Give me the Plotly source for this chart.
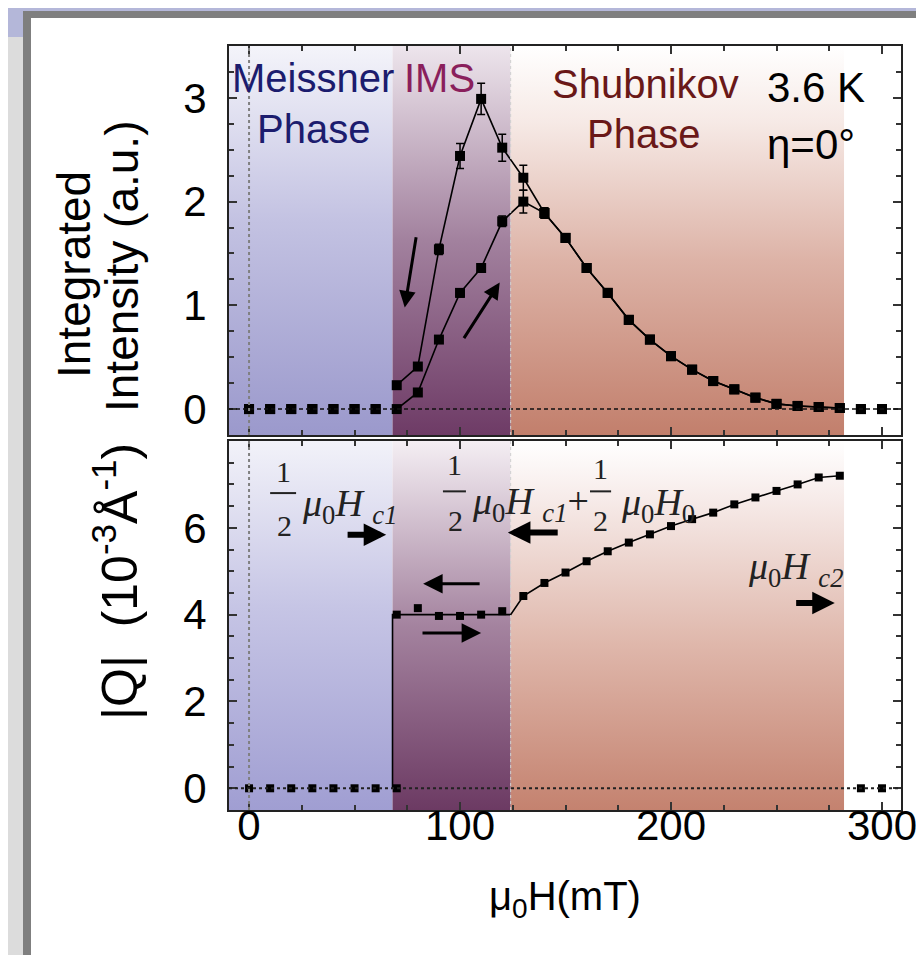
import numpy as np
import plotly.graph_objects as go

# ---------------- data ----------------
field = np.arange(0, 301, 10)  # mT
intensity_up = [0, 0, 0, 0, 0, 0, 0, 0, 0.16, 0.67, 1.12, 1.36, 1.81, 2.00, 1.89, 1.65,
                1.36, 1.12, 0.86, 0.67, 0.51, 0.38, 0.27, 0.19, 0.11, 0.05, 0.03, 0.02,
                0.01, 0.0, 0.0]
intensity_down = [0, 0, 0, 0, 0, 0, 0, 0.23, 0.41, 1.54, 2.44, 2.99, 2.52, 2.23, 1.89, 1.65,
                  1.36, 1.12, 0.86, 0.67, 0.51, 0.38, 0.27, 0.19, 0.11, 0.05, 0.03, 0.02,
                  0.01, 0.0, 0.0]
err_up = [0, 0, 0, 0, 0, 0, 0, 0, 0.02, 0.03, 0.04, 0.04, 0.05, 0.11, 0.05, 0.04,
          0.03, 0.03, 0.02, 0.02, 0.02, 0.02, 0.02, 0.02, 0.02, 0.01, 0.01, 0.01,
          0.01, 0.0, 0.0]
err_down = [0, 0, 0, 0, 0, 0, 0, 0.02, 0.03, 0.05, 0.12, 0.15, 0.13, 0.12, 0.05, 0.04,
            0.03, 0.03, 0.02, 0.02, 0.02, 0.02, 0.02, 0.02, 0.02, 0.01, 0.01, 0.01,
            0.01, 0.0, 0.0]

q_field_meissner = [0, 10, 20, 30, 40, 50, 60, 70]
q_meissner = [0, 0, 0, 0, 0, 0, 0, 0]
q_field_vortex = [70, 80, 90, 100, 110, 120, 130, 140, 150, 160, 170, 180, 190, 200,
                  210, 220, 230, 240, 250, 260, 270, 280]
q_vortex = [4.0, 4.15, 3.97, 3.97, 4.0, 4.08, 4.43, 4.73, 4.97, 5.23, 5.46, 5.66, 5.85,
            6.04, 6.20, 6.35, 6.54, 6.70, 6.85, 7.00, 7.16, 7.20]
q_field_normal = [290, 300]
q_normal = [0.0, 0.0]

# phase boundaries (mT) and plateau value
half_hc1 = 68
ims_upper = 124
hc2 = 282
q_plateau = 4.0

x_ticks = [0, 100, 200, 300]
y1_ticks = [0, 1, 2, 3]
y2_ticks = [0, 2, 4, 6]

x_range = [-9.5, 309]
y1_range = [-0.25, 3.5]
y2_range = [-0.5, 8.0]

# ---------------- geometry helpers (pixels -> paper) ----------------
W, H = 924, 955
L, R, T, B = 221, 893, 38, 802


def pxx(p):
    return (p - L) / (R - L)


def pxy(p):
    return (B - p) / (B - T)


SANS = "Liberation Sans, Arial, sans-serif"
SERIF = "Liberation Serif, Times New Roman, serif"
LBL = 40

fig = go.Figure()

# ---------------- gradient phase regions ----------------
phases = [
    (x_range[0], half_hc1,
     [[0, "#9b99cc"], [0.55, "#c3c2e2"], [1, "#f4f4fa"]],
     [[0, "#a09ed2"], [0.55, "#c6c5e5"], [1, "#f2f2f9"]]),
    (half_hc1, ims_upper,
     [[0, "#6e3b66"], [0.5, "#a2819e"], [1, "#ede5ec"]],
     [[0, "#6c3a63"], [0.5, "#a4839f"], [1, "#f4eef3"]]),
    (ims_upper, hc2,
     [[0, "#c27f6c"], [0.45, "#ddb3a7"], [0.8, "#f6e9e5"], [1, "#ffffff"]],
     [[0, "#c4826f"], [0.45, "#dfb7ab"], [0.85, "#f7ecea"], [1, "#ffffff"]]),
]
for x0, x1, cs_top, cs_bot in phases:
    for (yr, cs, xa, ya) in [(y1_range, cs_top, "x", "y"), (y2_range, cs_bot, "x2", "y2")]:
        fig.add_trace(go.Scatter(
            x=[x0, x1, x1, x0, x0], y=[yr[0], yr[0], yr[1], yr[1], yr[0]],
            mode="lines", line=dict(width=0), fill="toself",
            fillgradient=dict(type="vertical", colorscale=cs, start=yr[0], stop=yr[1]),
            xaxis=xa, yaxis=ya, hoverinfo="skip", showlegend=False))

field_arr = np.array(field)
up = np.array(intensity_up)
dn = np.array(intensity_down)
line_mask = (field_arr >= 70) & (field_arr <= 280)

# top panel lines
for arr in (up, dn):
    fig.add_trace(go.Scatter(x=field_arr[line_mask], y=arr[line_mask], mode="lines",
                             line=dict(color="black", width=1.6), xaxis="x", yaxis="y",
                             showlegend=False))
# top panel markers
for arr, err in ((up, err_up), (dn, err_down)):
    fig.add_trace(go.Scatter(x=field_arr, y=arr, mode="markers",
                             marker=dict(symbol="square", size=10, color="black"),
                             error_y=dict(type="data", array=err, color="black", thickness=1.5, width=4),
                             xaxis="x", yaxis="y", showlegend=False))

# bottom panel guide line
guide_x = [half_hc1, half_hc1, ims_upper] + [f for f in q_field_vortex if f > ims_upper]
guide_y = [0, q_plateau, q_plateau] + [q for f, q in zip(q_field_vortex, q_vortex) if f > ims_upper]
fig.add_trace(go.Scatter(x=guide_x, y=guide_y, mode="lines",
                         line=dict(color="black", width=1.6), xaxis="x2", yaxis="y2",
                         showlegend=False))
for xs, ys in [(q_field_meissner, q_meissner), (q_field_vortex, q_vortex), (q_field_normal, q_normal)]:
    fig.add_trace(go.Scatter(x=xs, y=ys, mode="markers",
                             marker=dict(symbol="square", size=8, color="black"),
                             xaxis="x2", yaxis="y2", showlegend=False))

# ---------------- reference lines ----------------
shapes = []
shapes.append(dict(type="line", xref="x domain", yref="y", x0=0, x1=1, y0=0, y1=0,
                   line=dict(color="#111", width=1.6, dash="4px,3px"), layer="above"))
shapes.append(dict(type="line", xref="x2 domain", yref="y2", x0=0, x1=1, y0=0, y1=0,
                   line=dict(color="#222", width=2, dash="dot"), layer="above"))
for ya in ["y", "y2"]:
    shapes.append(dict(type="line", xref="x", yref=ya + " domain", x0=0, x1=0, y0=0, y1=1,
                       line=dict(color="#808080", width=2, dash="dot"), layer="above"))
    shapes.append(dict(type="line", xref="x", yref=ya + " domain", x0=ims_upper, x1=ims_upper,
                       y0=0, y1=1, line=dict(color="#cfcfcf", width=1, dash="dot"), layer="above"))


# ---------------- page frame ----------------
def prect(x0, y0, x1, y1, color):
    return dict(type="rect", xref="paper", yref="paper", x0=pxx(x0), x1=pxx(x1),
                y0=pxy(y1), y1=pxy(y0), fillcolor=color, line=dict(width=0), layer="below")


shapes += [
    prect(0, 0, W, 3, "#b4b7d9"),
    prect(0, 0, 15, 29, "#b4b7d9"),
    prect(0, 29, 15, H, "#dcdcdc"),
    prect(15, 3, 23, H, "#7f7f7f"),
    prect(15, 3, W, 10, "#7f7f7f"),
]

# fraction bars (text glyphs)
for xa0, xa1, yy in [(10, 22.3, 6.80), (91.9, 102.8, 6.84), (161.6, 171.6, 6.84)]:
    shapes.append(dict(type="line", xref="x2", yref="y2", x0=xa0, x1=xa1, y0=yy, y1=yy,
                       line=dict(color="#222", width=2), layer="above"))

# ---------------- annotations ----------------
ann = []


def ptext(text, px, py, size, color="black", family=SANS, xanchor="center", angle=0):
    ann.append(dict(text=text, xref="paper", yref="paper", x=pxx(px), y=pxy(py),
                    xanchor=xanchor, yanchor="middle", showarrow=False, textangle=angle,
                    font=dict(size=size, color=color, family=family)))


ptext("Meissner", 305, 70, LBL, "#1c1c6e")
ptext("Phase", 305, 121, LBL, "#1c1c6e")
ptext("IMS", 431, 70, LBL, "#8a1f5c")
ptext("Shubnikov", 637, 76, LBL, "#6a1818")
ptext("Phase", 635, 126, LBL, "#6a1818")
ptext("3.6 K", 757, 79, LBL + 2, "black", xanchor="left")
ptext("η=0°", 757, 136, LBL + 2, "black", xanchor="left")

ptext("Integrated", 66, 267, 46, "black", angle=-90)
ptext("Intensity (a.u.)", 114, 259, 46, "black", angle=-90)
ptext("|Q|  (10<sup>-3</sup>Å<sup>-1</sup>)", 108, 573, 50, "black", angle=-90)
ptext("μ<sub>0</sub>H(mT)", 557, 891, LBL, "black")


def dtext(text, x, y, size, xanchor="center"):
    ann.append(dict(text=text, xref="x2", yref="y2", x=x, y=y, xanchor=xanchor,
                    yanchor="middle", showarrow=False,
                    font=dict(size=size, color="#222", family=SERIF)))


dtext("1", 16.1, 7.30, 30)
dtext("2", 16.6, 6.05, 30)
dtext("<i>μ</i><sub>0</sub><i>H</i> <sub><i>c1</i></sub>", 24.0, 6.50, 38, "left")
dtext("1", 97.6, 7.46, 30)
dtext("2", 97.8, 6.17, 30)
dtext("<i>μ</i><sub>0</sub><i>H</i> <sub><i>c1</i></sub>+", 104.5, 6.55, 38, "left")
dtext("1", 166.8, 7.36, 30)
dtext("2", 166.4, 6.17, 30)
dtext("<i>μ</i><sub>0</sub><i>H</i><sub>0</sub>", 175.3, 6.52, 38, "left")
dtext("<i>μ</i><sub>0</sub><i>H</i> <sub><i>c2</i></sub>", 235.5, 5.05, 38, "left")


def arrow(xa, ya, x_tail, y_tail, x_head, y_head, width, size):
    ann.append(dict(text="", xref=xa, yref=ya, axref=xa, ayref=ya,
                    x=x_head, y=y_head, ax=x_tail, ay=y_tail, showarrow=True,
                    arrowhead=2, arrowsize=size, arrowwidth=width, arrowcolor="black"))


arrow("x", "y", 79.3, 1.67, 73.8, 0.98, 3, 1.1)
arrow("x", "y", 101.4, 0.67, 118.8, 1.22, 3, 1.1)
arrow("x2", "y2", 46, 5.84, 65, 5.84, 6, 0.75)
arrow("x2", "y2", 110, 4.71, 82.5, 4.71, 3, 1.3)
arrow("x2", "y2", 81.5, 3.58, 110, 3.58, 3, 1.3)
arrow("x2", "y2", 147, 5.89, 122.7, 5.89, 6, 0.75)
arrow("x2", "y2", 258.6, 4.27, 277.6, 4.27, 6, 0.75)

# ---------------- axes ----------------
TICKF = dict(size=42, family=SANS, color="black")
axis_common = dict(showline=True, linewidth=2, linecolor="#222", mirror="ticks",
                   ticks="inside", tickcolor="#333", tickwidth=1.5, showgrid=False,
                   zeroline=False)
fig.update_layout(
    width=W, height=H,
    margin=dict(l=L, r=W - R, t=T, b=H - B, pad=0),
    paper_bgcolor="white", plot_bgcolor="white",
    showlegend=False,
    xaxis=dict(domain=[0, 1], anchor="y", range=x_range, tickvals=x_ticks,
               showticklabels=False, ticklen=8,
               minor=dict(dtick=25, tick0=0, ticks="inside", ticklen=5, tickcolor="#333"),
               **axis_common),
    xaxis2=dict(domain=[0, 1], anchor="y2", range=x_range, tickvals=x_ticks, matches="x",
                ticklen=8, ticklabelstandoff=-22, tickfont=TICKF,
                minor=dict(dtick=25, tick0=0, ticks="inside", ticklen=5, tickcolor="#333"),
                **axis_common),
    yaxis=dict(domain=[pxy(427), 1], anchor="x", range=y1_range, tickvals=y1_ticks,
               ticklen=8, ticklabelstandoff=12, tickfont=TICKF,
               minor=dict(dtick=0.25, tick0=0, ticks="inside", ticklen=5, tickcolor="#333"),
               **axis_common),
    yaxis2=dict(domain=[0, pxy(433)], anchor="x2", range=y2_range, tickvals=y2_ticks,
                ticklen=8, ticklabelstandoff=12, tickfont=TICKF,
                minor=dict(dtick=0.5, tick0=0, ticks="inside", ticklen=5, tickcolor="#333"),
                **axis_common),
    shapes=shapes,
    annotations=ann,
)

fig.write_html("out.html")
